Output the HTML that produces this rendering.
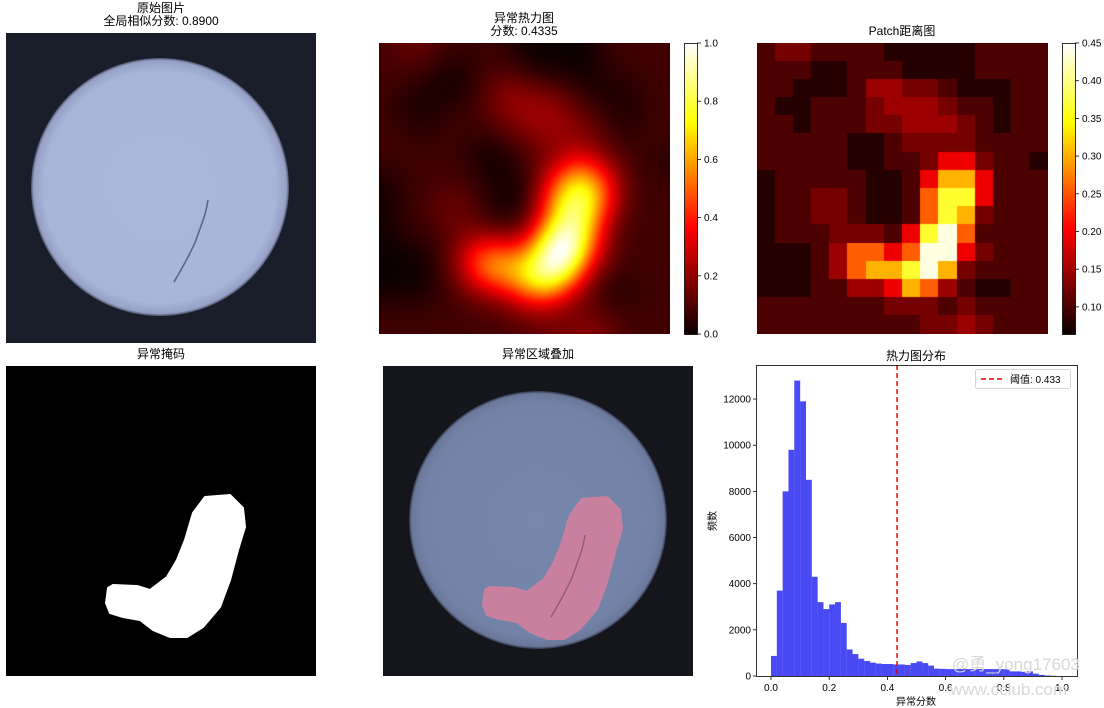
<!DOCTYPE html>
<html><head><meta charset="utf-8"><style>
html,body{margin:0;padding:0;background:#fff;}
body{width:1104px;height:708px;position:relative;overflow:hidden;font-family:"Liberation Sans","WenQuanYi Zen Hei",sans-serif;}
.t{position:absolute;font-size:12px;color:#000;text-align:center;line-height:13px;white-space:nowrap;font-family:"WenQuanYi Zen Hei","Liberation Sans",sans-serif;}
canvas{position:absolute;}
</style></head><body>
<svg width="1104" height="708" style="position:absolute;left:0;top:0" font-family="WenQuanYi Zen Hei, Liberation Sans, sans-serif">
<defs>
<radialGradient id="ball" cx="50%" cy="50%" r="50%">
<stop offset="0" stop-color="#aab8dc"/><stop offset="0.9" stop-color="#a7b5d9"/><stop offset="0.98" stop-color="#94a1c4"/><stop offset="1" stop-color="#4a5268"/></radialGradient>
<radialGradient id="ball2" cx="50%" cy="50%" r="50%">
<stop offset="0" stop-color="#7787ab"/><stop offset="0.9" stop-color="#7383a7"/><stop offset="0.98" stop-color="#6a7899"/><stop offset="1" stop-color="#30364a"/></radialGradient>
<linearGradient id="hot" x1="0" y1="1" x2="0" y2="0">
<stop offset="0" stop-color="#0b0000"/><stop offset="0.365" stop-color="#ff0000"/><stop offset="0.73" stop-color="#ffff00"/><stop offset="1" stop-color="#ffffff"/></linearGradient>
</defs>
<rect x="6" y="33" width="310" height="310" fill="#1a1e2b"/>
<circle cx="160" cy="187" r="129" fill="url(#ball)"/>
<path d="M208,200 C206,215 200,228 196,240 C190,255 182,268 174,282" stroke="#5c6884" stroke-width="1.6" fill="none"/>
<rect x="6" y="366" width="310" height="310" fill="#000"/>
<path d="M205,497 L230,495 L243,508 L245,527 L238,550 L230,580 L220,607 L203,627 L187,637 L170,637 L153,630 L140,620 L123,617 L110,613 L106,603 L108,588 L113,585 L137,586 L150,590 L167,577 L177,560 L185,540 L193,513 Z" fill="#fff" stroke="#fff" stroke-width="2" stroke-linejoin="round"/>
<rect x="383" y="366" width="310" height="310" fill="#14161c"/>
<circle cx="538" cy="520" r="129" fill="url(#ball2)"/>
<g transform="translate(377,2)"><path d="M205,497 L230,495 L243,508 L245,527 L238,550 L230,580 L220,607 L203,627 L187,637 L170,637 L153,630 L140,620 L123,617 L110,613 L106,603 L108,588 L113,585 L137,586 L150,590 L167,577 L177,560 L185,540 L193,513 Z" fill="#c9809e" stroke="#c9809e" stroke-width="2" stroke-linejoin="round"/></g>
<path d="M585,535 C583,550 577,563 573,575 C567,590 559,603 551,617" stroke="#8a5a70" stroke-width="1.3" fill="none"/>
<rect x="684.5" y="43.5" width="13" height="291" fill="url(#hot)" stroke="#000" stroke-width="0.8"/>
<rect x="1062.5" y="43.5" width="13" height="291" fill="url(#hot)" stroke="#000" stroke-width="0.8"/>
<g font-size="10" fill="#000" stroke="none">
<g id="cb1"></g><g id="cb2"></g>
</g>
<g id="bars" fill="#4a4af5"></g>
<line x1="897" y1="365" x2="897" y2="676" stroke="#e00000" stroke-width="1.4" stroke-dasharray="5,3"/>
<rect x="756.5" y="365.5" width="321" height="311" fill="none" stroke="#000" stroke-width="0.8"/>
<g id="hax" font-size="10" fill="#000"></g>
<rect x="975.5" y="369.5" width="95" height="19" fill="#fff" stroke="#ccc" stroke-width="0.8" rx="2"/>
<line x1="981" y1="379" x2="1002" y2="379" stroke="#e00000" stroke-width="1.4" stroke-dasharray="5,3"/>
<text x="1010" y="383" font-size="10">阈值: 0.433</text>
<text x="916" y="705" font-size="10" text-anchor="middle">异常分数</text>
<text x="0" y="0" font-size="10" text-anchor="middle" transform="translate(716,521) rotate(-90)">频数</text>
<text x="952" y="670" font-size="17" fill="#d8d8d8">@勇_yong17603</text>
<text x="950" y="695" font-size="17" fill="#d8d8d8">www.cclub.com</text>
</svg>
<canvas id="c1" width="291" height="291" style="left:379px;top:43px"></canvas>
<canvas id="c2" width="291" height="291" style="left:757px;top:43px"></canvas>
<div class="t" style="left:61px;top:2px;width:200px">原始图片<br>全局相似分数: 0.8900</div>
<div class="t" style="left:424px;top:12px;width:200px">异常热力图<br>分数: 0.4335</div>
<div class="t" style="left:802px;top:25px;width:200px">Patch距离图</div>
<div class="t" style="left:61px;top:348px;width:200px">异常掩码</div>
<div class="t" style="left:438px;top:348px;width:200px">异常区域叠加</div>
<div class="t" style="left:816px;top:350px;width:200px">热力图分布</div>
<script>
function hot(t){t=Math.max(0,Math.min(1,t));var r=Math.min(1,0.0416+t/0.365*(1-0.0416)),g=Math.max(0,Math.min(1,(t-0.365)/0.365)),b=Math.max(0,Math.min(1,(t-0.73)/0.27));return [r*255|0,g*255|0,b*255|0];}
var G=[
"2332222111112222","2221122211112222","2211124433211122","2112223444322122",
"2212223344432122","2222211233332222","2222211223553221","1222221125775222",
"1223321126885222","1223321126873222","1222333258962222","1112466569953222",
"1112467789732222","1112244576421122","2222222333232222","2222222223343222"].map(function(r){return r.split('').map(Number)});
var LT=[0,0.04,0.1,0.16,0.22,0.34,0.5,0.62,0.78,0.97];
var c2=document.getElementById('c2').getContext('2d'),cs=291/16;
for(var i=0;i<16;i++)for(var j=0;j<16;j++){var c=hot(LT[G[i][j]]);c2.fillStyle='rgb('+c+')';c2.fillRect(Math.floor(j*cs),Math.floor(i*cs),Math.ceil(cs)+1,Math.ceil(cs)+1);}
var N=97,f=[],mn=1e9,mx=-1e9,sg=0.9;
for(var y=0;y<N;y++)for(var x=0;x<N;x++){var gy=y/N*16-0.5,gx=x/N*16-0.5,s=0,w=0;
for(var i=0;i<16;i++)for(var j=0;j<16;j++){var d=((i-gy)*(i-gy)+(j-gx)*(j-gx))/(2*sg*sg);if(d>9)continue;var ww=Math.exp(-d);s+=ww*LT[G[i][j]];w+=ww;}
var v=s/w;f.push(v);if(v<mn)mn=v;if(v>mx)mx=v;}
var tc=document.createElement('canvas');tc.width=N;tc.height=N;var tx=tc.getContext('2d'),im=tx.createImageData(N,N);
for(var k=0;k<N*N;k++){var c=hot((f[k]-mn)/(mx-mn));im.data[4*k]=c[0];im.data[4*k+1]=c[1];im.data[4*k+2]=c[2];im.data[4*k+3]=255;}
tx.putImageData(im,0,0);var c1=document.getElementById('c1').getContext('2d');c1.imageSmoothingEnabled=true;c1.drawImage(tc,0,0,291,291);
var NS='http://www.w3.org/2000/svg';
function el(p,n,a,txt){var e=document.createElementNS(NS,n);for(var k in a)e.setAttribute(k,a[k]);if(txt!=null)e.textContent=txt;p.appendChild(e);}
var cb1=document.getElementById('cb1');
for(var i=0;i<=5;i++){var y=334-i*291/5;el(cb1,'line',{x1:697,x2:701,y1:y,y2:y,stroke:'#000','stroke-width':0.8});el(cb1,'text',{x:704,y:y+3.5},(i*0.2).toFixed(1));}
var cb2=document.getElementById('cb2');
for(var i=0;i<8;i++){var v=0.10+i*0.05,y=334-(v-0.064)/(0.386)*291;el(cb2,'line',{x1:1075,x2:1079,y1:y,y2:y,stroke:'#000','stroke-width':0.8});el(cb2,'text',{x:1082,y:y+3.5},v.toFixed(2));}
var H=[870,3700,8000,9800,12800,11900,8500,4300,3200,2900,3100,3200,2300,1150,950,750,650,580,540,520,520,500,500,480,560,630,560,450,320,310,300,300,300,300,300,300,300,300,300,300,290,200,200,180,200,100,50,20,10,0];
var bars=document.getElementById('bars');
for(var i=0;i<H.length;i++){var h=H[i]*0.02308;el(bars,'rect',{x:771+i*5.82,y:676-h,width:5.9,height:h});}
var hax=document.getElementById('hax');
for(var i=0;i<=5;i++){var x=771+i*0.2*291;el(hax,'line',{x1:x,x2:x,y1:677,y2:680,stroke:'#000','stroke-width':0.8});el(hax,'text',{x:x,y:691,'text-anchor':'middle'},(i*0.2).toFixed(1));}
for(var i=0;i<=6;i++){var y=676-i*2000*0.02308;el(hax,'line',{x1:753,x2:756,y1:y,y2:y,stroke:'#000','stroke-width':0.8});el(hax,'text',{x:751,y:y+3.5,'text-anchor':'end'},String(i*2000));}
</script>
</body></html>
